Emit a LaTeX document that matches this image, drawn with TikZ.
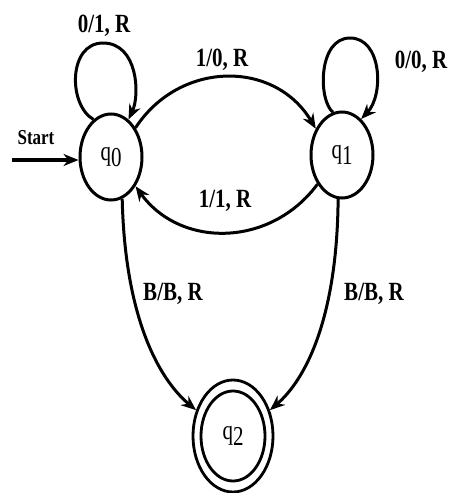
\documentclass[tikz,border=0pt]{standalone}
\usepackage{fontspec}
\setmainfont{Liberation Serif}
\usetikzlibrary{shapes.geometric,arrows.meta}
\newcommand{\tallt}[1]{\scalebox{1}[1.25]{#1}}
\newcommand{\stlbl}[1]{\raisebox{-11pt}{\scalebox{1}[1.3]{q\raisebox{-5pt}{#1}}}}
\begin{document}
\begin{tikzpicture}[x=1pt,y=-1pt,
  state/.style={ellipse,draw,line width=3pt,minimum width=62pt,minimum height=86pt,inner sep=0pt,font=\fontsize{21}{23}\selectfont},
  edge/.style={line width=3pt,-{Stealth[length=15pt,width=12pt]}},
  lbl/.style={inner sep=0pt,font=\fontsize{21}{23}\selectfont\bfseries}]
\useasboundingbox (0,0) rectangle (451,493);
\node[state] (q0) at (111,157) {\stlbl{0}};
\node[state] (q1) at (342,155) {\stlbl{1}};
\node[state,minimum width=80pt,minimum height=112pt,line width=2.8pt] (q2) at (233,436) {};
\node[state,minimum width=64pt,minimum height=90pt,line width=2.8pt] (q2in) at (233,436) {\stlbl{2}};
\coordinate (s) at (12,160);
\draw[edge,line width=3.6pt] (s) -- (q0.west |- s);
\node[lbl,font=\fontsize{17}{19}\selectfont\bfseries] (start) at (36,138) {\tallt{Start}};
\draw[edge] (q0.115) .. controls (68,105) and (68,43) .. (103,43) .. controls (138,43) and (140,95) .. (q0.65);
\draw[edge] (q1.102) .. controls (318,100) and (318,38) .. (350,38) .. controls (382,38) and (384,95) .. (q1.62);
\draw[edge] (q0.50) .. controls (180,60) and (275,60) .. (q1.135);
\draw[edge] (q1.230) .. controls (270,248) and (180,248) .. (q0.-50);
\draw[edge] (q0.-75) .. controls (125,320) and (160,380) .. (q2.145);
\draw[edge] (q1.-95) .. controls (337,320) and (305,380) .. (q2.35);
\node[lbl] (l00) at (104,26) {\tallt{0/1, R}};
\node[lbl] (l11) at (421,62) {\tallt{0/0, R}};
\node[lbl] (l01) at (222,60) {\tallt{1/0, R}};
\node[lbl] (l10) at (225,201) {\tallt{1/1, R}};
\node[lbl] (l02) at (173,294) {\tallt{B/B, R}};
\node[lbl] (l12) at (374,294) {\tallt{B/B, R}};
\end{tikzpicture}
\end{document}
